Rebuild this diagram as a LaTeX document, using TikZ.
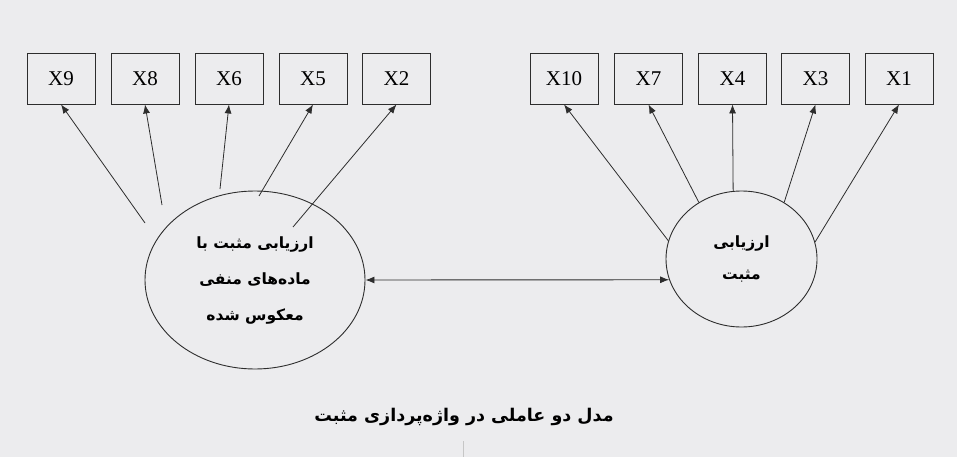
\documentclass[tikz,border=0pt]{standalone}
\usepackage{fontspec}
\setmainfont{Liberation Serif}
\newfontfamily\arabicfont[Script=Arabic]{DejaVu Sans}
\TeXXeTstate=1
\usepackage{tikz}
\usetikzlibrary{shapes}
\usetikzlibrary{arrows.meta}
\definecolor{paper}{RGB}{236,236,238}
\definecolor{ink}{RGB}{45,45,45}

\begin{document}
\begin{tikzpicture}[x=1pt,y=-1pt,
	var/.style={rectangle,draw=ink,line width=0.9pt,minimum width=68pt,minimum height=51pt,inner sep=0pt,font=\fontsize{21}{24}\selectfont},
	factor/.style={ellipse,draw=ink,line width=0.9pt,inner sep=0pt,align=center},
	load/.style={draw=ink,line width=0.8pt,-{Latex[length=9pt,width=7pt]}}]
\fill [paper] (0,0) rectangle (957,457);
% observed variables
\node [var] (x9) at (61,78.5) {X9};
\node [var] (x8) at (145,78.5) {X8};
\node [var] (x6) at (229,78.5) {X6};
\node [var] (x5) at (313,78.5) {X5};
\node [var] (x2) at (396.5,78.5) {X2};
\node [var] (x10) at (564,78.5) {X10};
\node [var] (x7) at (648.5,78.5) {X7};
\node [var] (x4) at (732.5,78.5) {X4};
\node [var] (x3) at (815.5,78.5) {X3};
\node [var] (x1) at (899,78.5) {X1};
% factors
\node [factor,minimum width=220pt,minimum height=178pt,font=\arabicfont\bfseries\fontsize{15.5}{36}\selectfont] (F2) at (255,280)
	{\beginR ارزیابی مثبت با\endR\\\beginR ماده‌های منفی\endR\\\beginR معکوس شده\endR};
\node [factor,minimum width=151pt,minimum height=136pt,font=\arabicfont\bfseries\fontsize{15.5}{32}\selectfont] (F1) at (741.5,259)
	{\beginR ارزیابی\endR\\\beginR مثبت\endR};
% loadings
\coordinate (s9) at (145,223);
\coordinate (s8) at (162,205);
\coordinate (s6) at (220,189);
\coordinate (s5) at (259,196);
\coordinate (s2) at (293,227);
\draw [load] (s9) -- (x9.south);
\draw [load] (s8) -- (x8.south);
\draw [load] (s6) -- (x6.south);
\draw [load] (s5) -- (x5.south);
\draw [load] (s2) -- (x2.south);
\draw [load] (F1.166) -- (x10.south);
\draw [load] (F1.127) -- (x7.south);
\draw [load] (F1.97) -- (x4.south);
\draw [load] (F1.53) -- (x3.south);
\draw [load] (F1.13) -- (x1.south);
% correlation
\draw [draw=ink,line width=0.9pt,{Latex[length=9pt,width=7pt]}-{Latex[length=9pt,width=7pt]}] (F2.east) -- (F1.196);
\node [font=\arabicfont\bfseries\fontsize{17.5}{20}\selectfont] (cap) at (464,417) {\beginR مدل دو عاملی در واژه‌پردازی مثبت\endR};
\draw [gray!45,line width=0.8pt] (463,441) -- (463,457);
\end{tikzpicture}
\end{document}
